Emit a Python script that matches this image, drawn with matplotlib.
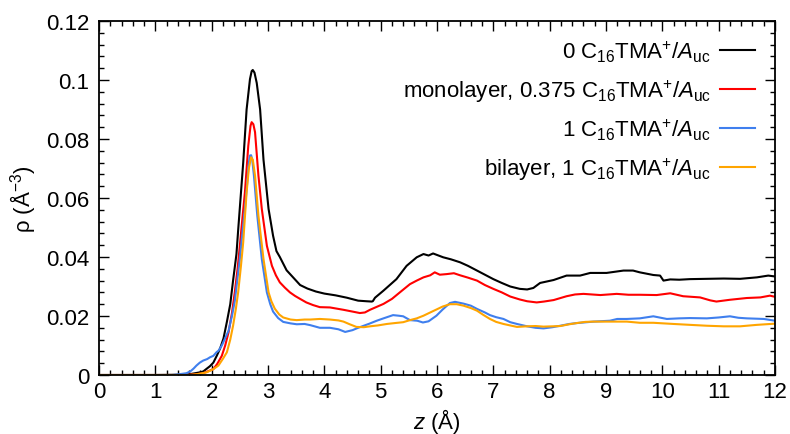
import matplotlib
matplotlib.use("Agg")
import matplotlib.pyplot as plt
from matplotlib.ticker import MultipleLocator, FuncFormatter

plt.rcParams["font.family"] = ["Liberation Sans", "DejaVu Sans"]
plt.rcParams["mathtext.fontset"] = "custom"
plt.rcParams["mathtext.rm"] = "Liberation Sans"
plt.rcParams["mathtext.it"] = "Liberation Sans:italic"
plt.rcParams["mathtext.bf"] = "Liberation Sans:bold"

# Density profiles rho(z) near the surface
z_black = [0, 1.0, 1.5, 1.62, 1.79, 1.85, 1.97, 2.03, 2.09, 2.15, 2.21, 2.27, 2.33, 2.38,
           2.44, 2.47, 2.56, 2.62, 2.68, 2.71, 2.73, 2.76, 2.80, 2.86, 2.92, 3.01, 3.09,
           3.15, 3.21, 3.33, 3.45, 3.57, 3.70, 3.85, 4.0, 4.2, 4.4, 4.6, 4.75, 4.84, 4.86,
           4.9, 5.05, 5.28, 5.46, 5.64, 5.76, 5.85, 5.93, 6.11, 6.25, 6.41, 6.55, 6.71,
           6.85, 7.0, 7.15, 7.3, 7.47, 7.6, 7.71, 7.83, 8.07, 8.3, 8.54, 8.72, 9.01, 9.31,
           9.48, 9.6, 9.84, 9.96, 10.02, 10.14, 10.3, 10.49, 10.79, 11.09, 11.38, 11.68,
           11.88, 12.0]
rho_black = [0, 0, 0.0001, 0.0003, 0.0009, 0.0012, 0.0030, 0.0042, 0.0065, 0.0090, 0.0124,
             0.0180, 0.0240, 0.0320, 0.0410, 0.0490, 0.0720, 0.0900, 0.1003, 0.1030, 0.1034,
             0.1025, 0.0990, 0.0900, 0.0730, 0.0563, 0.0472, 0.0420, 0.0400, 0.0355, 0.0330,
             0.0305, 0.0293, 0.0283, 0.0276, 0.0270, 0.0262, 0.0252, 0.0250, 0.0249, 0.0250,
             0.0262, 0.0286, 0.0325, 0.0370, 0.0399, 0.0410, 0.0405, 0.0412, 0.0399, 0.0392,
             0.0382, 0.0370, 0.0354, 0.0340, 0.0325, 0.0312, 0.0300, 0.0292, 0.0290, 0.0295,
             0.0312, 0.0322, 0.0337, 0.0337, 0.0346, 0.0346, 0.0354, 0.0354, 0.0348, 0.0339,
             0.0337, 0.0320, 0.0324, 0.0323, 0.0325, 0.0326, 0.0327, 0.0326, 0.0331, 0.0337,
             0.0334]

z_red = [0, 1.5, 1.7, 1.85, 2.03, 2.10, 2.18, 2.24, 2.30, 2.36, 2.41, 2.46, 2.50, 2.55,
         2.59, 2.65, 2.69, 2.71, 2.74, 2.77, 2.83, 2.89, 2.98, 3.07, 3.14, 3.21, 3.30, 3.39,
         3.48, 3.57, 3.68, 3.80, 3.92, 4.1, 4.34, 4.5, 4.63, 4.72, 4.81, 5.05, 5.2, 5.34,
         5.52, 5.64, 5.76, 5.88, 5.96, 6.05, 6.17, 6.3, 6.41, 6.55, 6.71, 6.85, 7.0, 7.15,
         7.3, 7.47, 7.6, 7.77, 7.9, 8.07, 8.3, 8.45, 8.6, 8.9, 9.19, 9.4, 9.6, 9.9, 10.14,
         10.37, 10.67, 10.85, 10.96, 11.2, 11.5, 11.74, 11.91, 12.0]
rho_red = [0, 0, 0.0002, 0.0006, 0.0020, 0.0038, 0.0065, 0.0100, 0.0145, 0.0210, 0.0280,
           0.0360, 0.0438, 0.0540, 0.0619, 0.0777, 0.0845, 0.0857, 0.0850, 0.0823, 0.0676,
           0.0563, 0.0438, 0.0370, 0.0338, 0.0314, 0.0296, 0.0280, 0.0268, 0.0258, 0.0246,
           0.0237, 0.0230, 0.0229, 0.0221, 0.0215, 0.0210, 0.0212, 0.0221, 0.0241, 0.0258,
           0.0280, 0.0308, 0.0320, 0.0331, 0.0338, 0.0348, 0.0340, 0.0342, 0.0345, 0.0338,
           0.0330, 0.0320, 0.0305, 0.0292, 0.0280, 0.0266, 0.0256, 0.0250, 0.0246, 0.0249,
           0.0254, 0.0267, 0.0273, 0.0275, 0.0271, 0.0275, 0.0272, 0.0272, 0.0271, 0.0277,
           0.0267, 0.0263, 0.0253, 0.0249, 0.0255, 0.0261, 0.0263, 0.0269, 0.0265]

z_blue = [0, 1.3, 1.44, 1.55, 1.62, 1.68, 1.73, 1.79, 1.85, 1.92, 1.97, 2.03, 2.09, 2.12,
          2.18, 2.24, 2.30, 2.36, 2.41, 2.46, 2.50, 2.55, 2.59, 2.63, 2.66, 2.68, 2.70,
          2.72, 2.75, 2.81, 2.89, 2.98, 3.04, 3.09, 3.18, 3.27, 3.4, 3.51, 3.65, 3.75, 3.92,
          4.1, 4.25, 4.37, 4.5, 4.6, 4.8, 4.93, 5.05, 5.22, 5.32, 5.40, 5.52, 5.65, 5.75,
          5.85, 5.99, 6.1, 6.23, 6.32, 6.47, 6.6, 6.71, 6.85, 6.94, 7.05, 7.18, 7.3, 7.42,
          7.6, 7.75, 7.89, 8.05, 8.19, 8.35, 8.48, 8.78, 9.07, 9.2, 9.37, 9.6, 9.84, 10.08,
          10.3, 10.49, 10.79, 11.0, 11.2, 11.35, 11.5, 11.8, 12.0]
rho_blue = [0, 0, 0.0003, 0.0006, 0.0012, 0.0022, 0.0032, 0.0042, 0.0049, 0.0054, 0.0060,
            0.0065, 0.0078, 0.0082, 0.0100, 0.0125, 0.0150, 0.0200, 0.0250, 0.0330, 0.0393,
            0.0490, 0.0563, 0.0650, 0.0720, 0.0744, 0.0745, 0.0730, 0.0676, 0.0540, 0.0393,
            0.0280, 0.0240, 0.0215, 0.0193, 0.0180, 0.0175, 0.0172, 0.0173, 0.0169, 0.0160,
            0.0160, 0.0155, 0.0146, 0.0152, 0.0160, 0.0174, 0.0184, 0.0192, 0.0203, 0.0201,
            0.0199, 0.0186, 0.0184, 0.0178, 0.0182, 0.0201, 0.0222, 0.0244, 0.0248, 0.0242,
            0.0235, 0.0224, 0.0212, 0.0203, 0.0196, 0.0190, 0.0179, 0.0173, 0.0165, 0.0160,
            0.0158, 0.0162, 0.0167, 0.0173, 0.0176, 0.0181, 0.0184, 0.0190, 0.0190, 0.0192,
            0.0199, 0.0190, 0.0192, 0.0193, 0.0192, 0.0195, 0.0199, 0.0194, 0.0192, 0.0190,
            0.0184]

z_orange = [0, 1.6, 1.75, 1.91, 2.03, 2.12, 2.20, 2.27, 2.33, 2.38, 2.43, 2.47, 2.52, 2.56,
            2.62, 2.66, 2.70, 2.73, 2.77, 2.83, 2.92, 3.01, 3.06, 3.12, 3.2, 3.27, 3.4, 3.51,
            3.65, 3.75, 3.92, 4.1, 4.25, 4.34, 4.45, 4.57, 4.7, 4.81, 4.95, 5.11, 5.25, 5.40,
            5.52, 5.64, 5.76, 5.88, 5.99, 6.1, 6.23, 6.35, 6.47, 6.6, 6.71, 6.82, 6.94, 7.05,
            7.18, 7.3, 7.42, 7.59, 7.75, 7.89, 8.05, 8.19, 8.35, 8.48, 8.63, 8.78, 9.07, 9.37,
            9.6, 9.84, 10.2, 10.49, 10.79, 11.09, 11.38, 11.68, 12.0]
rho_orange = [0, 0, 0.0003, 0.0009, 0.0020, 0.0032, 0.0055, 0.0077, 0.0120, 0.0167, 0.0225,
              0.0280, 0.0370, 0.0450, 0.0619, 0.0700, 0.0738, 0.0730, 0.0676, 0.0540, 0.0393,
              0.0280, 0.0250, 0.0225, 0.0205, 0.0195, 0.0188, 0.0186, 0.0188, 0.0188, 0.0190,
              0.0188, 0.0185, 0.0181, 0.0172, 0.0163, 0.0162, 0.0165, 0.0168, 0.0173, 0.0176,
              0.0179, 0.0186, 0.0192, 0.0201, 0.0212, 0.0222, 0.0232, 0.0240, 0.0240, 0.0235,
              0.0227, 0.0218, 0.0204, 0.0190, 0.0180, 0.0173, 0.0168, 0.0163, 0.0165, 0.0166,
              0.0164, 0.0165, 0.0166, 0.0172, 0.0176, 0.0180, 0.0181, 0.0181, 0.0181, 0.0177,
              0.0177, 0.0173, 0.0170, 0.0167, 0.0165, 0.0165, 0.0170, 0.0174]

labels = [
    r"0 C$_{16}$TMA$^{+}$/$A_{\mathrm{uc}}$",
    r"monolayer, 0.375 C$_{16}$TMA$^{+}$/$A_{\mathrm{uc}}$",
    r"1 C$_{16}$TMA$^{+}$/$A_{\mathrm{uc}}$",
    r"bilayer, 1 C$_{16}$TMA$^{+}$/$A_{\mathrm{uc}}$",
]
colors = ["#000000", "#ff0000", "#3f7fee", "#ffa500"]
series = [(z_black, rho_black), (z_red, rho_red), (z_blue, rho_blue), (z_orange, rho_orange)]

FS = 16

fig = plt.figure(figsize=(7.9, 4.35), dpi=100)
ax = fig.add_axes([99 / 790, 1 - 376 / 435, 676 / 790, 354 / 435])

for (zz, rr), c in zip(series, colors):
    ax.plot(zz, rr, color=c, lw=1.5, solid_joinstyle="round")

ax.set_xlim(0, 12)
ax.set_ylim(0, 0.12)
ax.xaxis.set_major_locator(MultipleLocator(1))
ax.xaxis.set_minor_locator(MultipleLocator(0.2))
ax.yaxis.set_major_locator(MultipleLocator(0.02))
ax.yaxis.set_minor_locator(MultipleLocator(0.004))


def yfmt(v, pos):
    s = f"{v:.2f}".rstrip("0").rstrip(".")
    return s


ax.yaxis.set_major_formatter(FuncFormatter(yfmt))
ax.tick_params(which="both", direction="in", top=True, right=True, labelsize=FS,
               width=1.0)
ax.tick_params(which="major", length=7)
ax.tick_params(axis="y", which="major", pad=7)
ax.tick_params(axis="x", which="major", pad=4)
ax.tick_params(which="minor", length=3.5)
for sp in ax.spines.values():
    sp.set_linewidth(1.3)

ax.set_xlabel(r"$z$ (Å)", fontsize=FS, labelpad=3)
ax.set_ylabel(r"ρ (Å$^{-3}$)", fontsize=FS, labelpad=6)

# Key: right-aligned text followed by a short line sample
key_y = [0.918, 0.808, 0.698, 0.588]
for lab, c, ky in zip(labels, colors, key_y):
    ax.plot([0.919, 0.970], [ky, ky], color=c, lw=1.5, transform=ax.transAxes,
            clip_on=False)
    ax.text(0.905, ky - 0.023, lab, ha="right", va="baseline", fontsize=FS,
            transform=ax.transAxes)

fig.savefig("out.png", dpi=100)
